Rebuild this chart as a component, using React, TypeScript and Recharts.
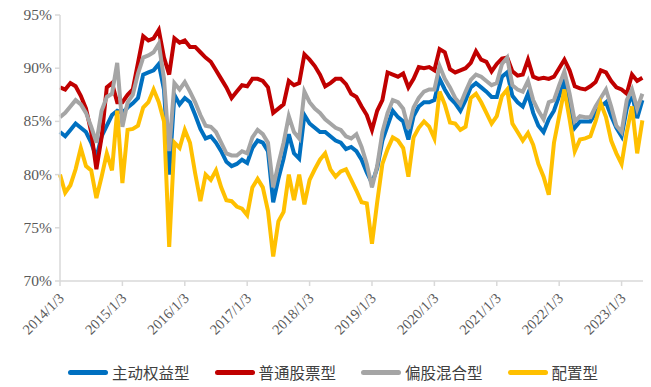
import React from 'react';
import { LineChart, Line, XAxis, YAxis, Legend } from 'recharts';

// month labels, one point per month from 2014/1 to 2023/5
const months: string[] = [];
for (let y = 2014; y <= 2023; y++) {
  for (let m = 1; m <= 12; m++) {
    if (y === 2023 && m > 5) break;
    months.push(`${y}/${m}`);
  }
}

const tickLabels = [
  '2014/1/3', '2015/1/3', '2016/1/3', '2017/1/3', '2018/1/3',
  '2019/1/3', '2020/1/3', '2021/1/3', '2022/1/3', '2023/1/3',
];

const yTicks = [70, 75, 80, 85, 90, 95];

// 主动权益型
const activeEquity = [
  84.0, 83.6, 84.2, 84.8, 84.4, 84.0, 83.0, 81.6, 83.6, 84.6,
  85.6, 86.0, 85.8, 86.3, 86.7, 87.2, 89.4, 89.6, 89.8, 90.4,
  88.0, 80.0, 87.5, 86.6, 87.2, 86.8, 85.6, 84.3, 83.4, 83.6,
  83.0, 82.2, 81.2, 80.8, 81.0, 81.4, 81.1, 82.5, 83.2, 83.0,
  82.2, 77.4, 79.6, 81.5, 83.8, 82.0, 81.5, 85.6, 84.8, 84.4,
  84.0, 84.0, 83.6, 83.2, 83.0, 82.4, 82.6, 82.2, 81.4, 80.2,
  79.2, 80.6, 83.2, 84.6, 86.0, 85.4, 85.0, 83.3, 85.5, 86.4,
  86.8, 86.8, 87.0, 89.0, 88.0, 87.2, 86.7, 86.0, 87.0, 88.2,
  88.6, 88.2, 87.8, 87.3, 87.3, 89.2, 89.6, 87.4, 86.8, 86.4,
  87.6, 85.8, 84.6, 84.0, 85.2, 86.0, 87.4, 88.8, 86.8, 84.4,
  85.0, 85.0, 85.0, 85.8, 86.4, 86.8, 85.5, 84.4, 83.6, 86.2,
  87.6, 85.3, 87.0,
];

// 普通股票型
const commonStock = [
  88.2, 88.0, 88.6, 88.3, 87.4, 86.2, 84.0, 80.5, 83.5, 88.2,
  88.6, 86.8, 86.8, 87.5, 88.0, 90.5, 93.0, 92.6, 92.8, 93.6,
  91.0, 89.4, 92.8, 92.4, 92.6, 92.0, 92.0, 91.5, 91.0, 90.6,
  89.8, 89.0, 88.2, 87.2, 87.8, 88.4, 88.3, 89.0, 89.0, 88.8,
  88.2, 85.8, 86.2, 86.6, 88.8, 88.4, 88.6, 91.3, 90.8, 90.2,
  89.4, 88.3, 88.6, 89.0, 89.0, 88.5, 87.6, 87.3, 86.4, 85.6,
  84.2, 86.0, 87.0, 89.6, 89.4, 89.2, 89.5, 88.2, 89.0, 90.1,
  90.0, 90.1, 89.8, 91.8, 91.5, 89.9, 89.6, 89.8, 90.0, 90.5,
  91.6, 90.8, 90.6, 89.7, 90.4, 90.9, 91.0, 89.7, 89.3, 89.4,
  90.8, 89.2, 89.0, 89.1, 89.0, 89.2, 90.0, 90.8, 89.8, 88.3,
  88.1, 88.0, 88.3, 88.7, 89.8, 89.6, 88.8, 88.2, 88.0, 87.6,
  89.4, 88.8, 89.1,
];

// 偏股混合型
const equityHybrid = [
  85.4, 85.8, 86.4, 87.0, 86.6, 85.8, 84.5, 83.0, 86.0, 87.3,
  87.6, 90.5, 84.5, 86.8, 87.5, 89.5, 91.0, 91.2, 91.5, 92.3,
  89.0, 82.2, 88.6, 88.0, 88.7, 87.8, 86.8, 85.6, 84.6, 84.5,
  84.0, 83.0, 82.0, 81.8, 81.8, 82.2, 82.0, 83.5, 84.2, 83.8,
  83.0, 78.8, 81.0, 83.0, 85.5, 84.0, 83.4, 87.8, 86.8, 86.2,
  85.8, 85.2, 84.8, 84.4, 84.2, 83.6, 83.4, 83.8, 82.6, 81.0,
  78.8, 80.8, 84.0, 85.8, 87.0, 86.8, 86.2, 84.3, 86.3, 87.2,
  87.8, 88.0, 88.0, 90.2, 89.0, 88.2, 87.2, 86.6, 87.8, 88.9,
  89.4, 89.2, 88.8, 88.4, 88.6, 90.4, 91.0, 88.4, 88.0, 87.8,
  88.8, 87.0, 86.0, 85.2, 86.8, 87.0, 88.4, 89.7, 87.6, 85.0,
  85.5, 85.4, 85.4, 86.4, 87.2, 88.0, 86.4, 84.6, 84.0, 87.0,
  88.0, 86.2, 87.6,
];

// 配置型
const allocation = [
  80.0, 78.3, 79.0, 80.5, 82.5, 80.8, 80.4, 77.8, 79.8, 82.0,
  80.4, 86.0, 79.2, 84.2, 84.3, 84.6, 86.3, 86.8, 88.0, 86.8,
  85.0, 73.2, 83.0, 82.5, 84.2, 83.0, 80.1, 77.5, 80.0, 79.5,
  80.4, 78.8, 77.6, 77.5, 77.0, 76.8, 76.2, 78.8, 79.6, 78.8,
  76.6, 72.3, 75.6, 76.5, 80.0, 77.6, 80.0, 77.2, 79.5, 80.5,
  81.4, 82.0, 80.5, 79.8, 80.3, 80.5, 79.5, 78.5, 77.4, 77.3,
  73.5, 77.4, 81.0, 82.4, 83.5, 83.2, 82.5, 79.8, 83.5, 84.4,
  85.0, 84.5, 83.4, 87.8, 86.6, 84.9, 84.8, 84.2, 84.5, 87.2,
  87.6, 86.8, 85.8, 84.8, 85.5, 87.4, 88.0, 84.8, 84.0, 83.2,
  83.9, 82.8, 81.0, 79.8, 78.1, 83.0, 85.5, 88.0, 85.2, 82.2,
  83.3, 83.4, 83.6, 85.0, 86.7, 85.4, 83.2, 82.0, 81.0, 84.0,
  86.4, 82.0, 85.1,
];

const seriesNames = ['主动权益型', '普通股票型', '偏股混合型', '配置型'];
const seriesColors = ['#0070C0', '#C00000', '#A5A5A5', '#FFC000'];
const seriesValues = [activeEquity, commonStock, equityHybrid, allocation];

const data = months.map((m, i) => ({
  t: i,
  month: m,
  s0: seriesValues[0][i],
  s1: seriesValues[1][i],
  s2: seriesValues[2][i],
  s3: seriesValues[3][i],
}));

const xTicks = tickLabels.map((l) => months.indexOf(l.split('/').slice(0, 2).join('/')));

const axisFont = '"Liberation Serif", "Times New Roman", serif';

// rotated date label, right end sits under the tick
const DateTick = (props: any) => {
  const { x, y, payload } = props;
  const label = tickLabels[xTicks.indexOf(payload.value)] ?? '';
  const ax = x + 5;
  const ay = y + 11;
  return (
    <text
      x={ax}
      y={ay}
      transform={`rotate(-45, ${ax}, ${ay})`}
      textAnchor="end"
      fill="#595959"
      fontSize={14.5}
      style={{ fontFamily: axisFont }}
    >
      {label}
    </text>
  );
};

const YTick = (props: any) => {
  const { x, y, payload } = props;
  return (
    <text
      x={x - 1}
      y={y + 5}
      textAnchor="end"
      fill="#595959"
      fontSize={15.5}
      style={{ fontFamily: axisFont }}
    >
      {`${payload.value}%`}
    </text>
  );
};

const renderLegend = () => (
  <div style={{ display: 'flex', alignItems: 'center', paddingLeft: 68 }}>
    {seriesNames.map((name, i) => (
      <div key={name} style={{ display: 'flex', alignItems: 'center', marginRight: 25 }}>
        <span
          style={{
            display: 'inline-block',
            width: 40,
            height: 5,
            borderRadius: 3,
            background: seriesColors[i],
            marginRight: 4,
          }}
        />
        <span style={{ fontFamily: '"Noto Sans CJK SC", sans-serif', fontSize: 15.5, color: '#404040' }}>
          {name}
        </span>
      </div>
    ))}
  </div>
);

export default function App() {
  return (
    <div style={{ position: 'absolute', left: 0, top: 0, width: 651, height: 387, background: '#fff' }}>
      <LineChart width={651} height={387} data={data} margin={{ top: 15, right: 8, left: 0, bottom: 0 }}>
        <XAxis
          dataKey="t"
          type="number"
          domain={[0, 112.12]}
          ticks={xTicks}
          tick={<DateTick />}
          tickSize={5}
          height={80}
          interval={0}
          stroke="#D9D9D9"
          strokeWidth={1.5}
        />
        <YAxis
          domain={[70, 95]}
          ticks={yTicks}
          width={60}
          tickSize={5}
          stroke="#D9D9D9"
          strokeWidth={1.5}
          tick={<YTick />}
        />
        <Legend verticalAlign="bottom" height={26} content={renderLegend} />
        {seriesNames.map((name, i) => (
          <Line
            key={name}
            name={name}
            dataKey={`s${i}`}
            type="linear"
            stroke={seriesColors[i]}
            strokeWidth={4}
            dot={false}
            isAnimationActive={false}
          />
        ))}
      </LineChart>
    </div>
  );
}
